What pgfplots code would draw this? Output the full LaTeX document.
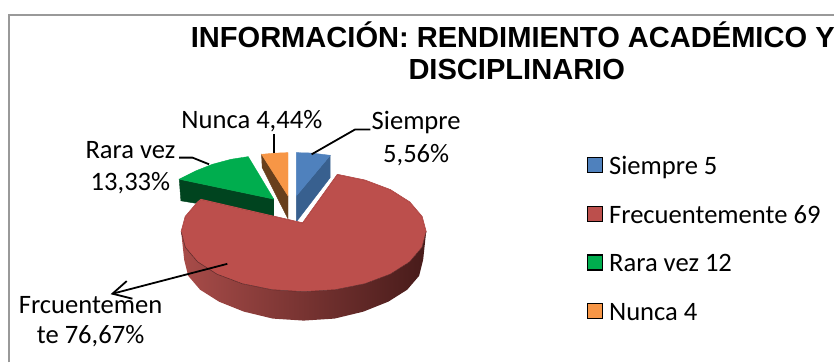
\documentclass[border=0pt]{standalone}
\usepackage{pgfplots}
\usepackage{fontspec}
\setmainfont{Carlito}
\newfontfamily\titlefont{Liberation Sans}
\pgfplotsset{compat=1.18}
\definecolor{rtop}{HTML}{BC4F4C}
\definecolor{rl}{HTML}{A84C49}
\definecolor{rm}{HTML}{682A2A}
\definecolor{rr}{HTML}{471B1A}
\definecolor{btop}{HTML}{4F81BD}
\definecolor{bside}{HTML}{38608F}
\definecolor{gtop}{HTML}{00AD4E}
\definecolor{gside}{HTML}{00441F}
\definecolor{otop}{HTML}{F79646}
\definecolor{oside}{HTML}{683F1C}
\newcommand{\lab}{\fontsize{26.7}{30}\selectfont}
\begin{document}
\begin{tikzpicture}
\begin{axis}[
  scale only axis, width=838pt, height=364pt,
  xmin=0, xmax=838, ymin=0, ymax=364, y dir=reverse,
  hide axis, clip=false,
  legend style={at={(axis cs:589,157)}, anchor=north west, draw=none, fill=none,
    font=\lab, row sep=31pt, inner sep=0pt,
    nodes={inner sep=0pt, anchor=west, text depth=0pt},
    /tikz/every odd column/.style={column sep=6pt}},
  legend cell align=left,
  legend image code/.code={\draw[#1, line width=1.6pt] (0pt,-7pt) rectangle (15pt,8pt);},
]
% page extent
\addplot[draw=none, forget plot] coordinates {(0,0) (838,0) (838,364) (0,364)};
% frame
\addplot[color=black!40, line width=1.5pt, forget plot] coordinates {(9,364) (9,15) (838,15)};
% green slice
\addplot[fill=gside, draw=gside, forget plot] coordinates {(180,180) (181.7,201.7) (275,217) (275,200)} -- cycle;
\addplot[fill=gtop, draw=gtop, forget plot] coordinates {(180,180) (197,171.5) (213.3,165) (232,160) (249.3,157.3) (275,200)} -- cycle;
% orange slice
\addplot[fill=oside, draw=oside, forget plot] coordinates {(262.7,155) (263.3,168.3) (289.3,220) (289.3,196.7)} -- cycle;
\addplot[fill=otop, draw=otop, forget plot] coordinates {(262.7,155) (276,153.8) (289.3,153.3) (289.3,196.7)} -- cycle;
% blue slice
\addplot[fill=bside, draw=bside, forget plot] coordinates {(297.7,196.7) (331.7,156) (331.7,178.3) (297.7,222.7)} -- cycle;
\addplot[fill=btop, draw=btop, forget plot] coordinates {(297.7,153.3) (313,153.7) (331.7,156) (297.7,196.7)} -- cycle;
% red side wall
\addplot[left color=rl, middle color=rm, right color=rr, draw=none, forget plot] coordinates {
 (428,233) (423.8,248.5) (411.5,263) (392,275.4) (366.5,285) (336.8,291) (305,293) (273.2,291) (243.5,285) (218,275.4) (198.5,263) (186.2,248.5) (182,233)
 (185,261) (189,277) (201,291) (220,303) (245,313) (274,320) (305,322) (336,320) (365,313) (390,303) (409,291) (421,277) (425,261)} -- cycle;
% red top
\addplot[fill=rtop, draw=rm!85!black, line width=0.5pt, forget plot] coordinates {
 (304,224) (338.9,175.3) (366.5,181) (392,190.6) (411.5,203) (423.8,217.5) (428,233) (423.8,248.5) (411.5,263) (392,275.4) (366.5,285) (336.8,291) (305,293) (273.2,291) (243.5,285) (218,275.4) (198.5,263) (186.2,248.5) (182,233) (186.2,217.5) (198.5,203) (201.8,200.3)} -- cycle;
\addplot[draw=rtop, line width=1pt, forget plot] coordinates {(201.8,200.3) (304,224) (338.9,175.3)};
\addplot[draw=rtop, line width=1pt, forget plot] coordinates {(338.9,175.3) (366.5,181) (392,190.6) (411.5,203) (423.8,217.5) (428,233)};
\addplot[draw=rtop, line width=1pt, forget plot] coordinates {(182,233) (186.2,217.5) (198.5,203) (201.8,200.3)};
% leader lines
\addplot[black, line width=1.8pt, forget plot] coordinates {(313,155) (356.7,130) (372,130)};
\addplot[black, line width=1.8pt, forget plot] coordinates {(275,154) (275,135)};
\addplot[black, line width=1.8pt, forget plot] coordinates {(210,165) (193.3,158.3) (180,158.3)};
\addplot[black, line width=1.8pt, forget plot] coordinates {(228.3,265) (113,295)};
\addplot[black, line width=1.8pt, forget plot] coordinates {(127.3,282.3) (113,295) (133,300)};
% legend
\addlegendimage{fill=btop, draw=black}\addlegendentry{Siempre 5}
\addlegendimage{fill=rtop, draw=black}\addlegendentry{Frecuentemente 69}
\addlegendimage{fill=gtop, draw=black}\addlegendentry{Rara vez 12}
\addlegendimage{fill=otop, draw=black}\addlegendentry{Nunca 4}
% texts
\node[font=\titlefont\bfseries\fontsize{29.2}{32}\selectfont, anchor=center] at (axis cs:515,35) {INFORMACIÓN: RENDIMIENTO ACADÉMICO Y};
\node[font=\titlefont\bfseries\fontsize{29.2}{32}\selectfont, anchor=center] at (axis cs:519,70) {DISCIPLINARIO};
\node[font=\lab] at (axis cs:418,123) {Siempre};
\node[font=\lab] at (axis cs:418,156) {5,56\%};
\node[font=\lab] at (axis cs:253,122) {Nunca 4,44\%};
\node[font=\lab] at (axis cs:131,151) {Rara vez};
\node[font=\lab] at (axis cs:131,184) {13,33\%};
\node[font=\lab] at (axis cs:91,306) {Frcuentemen};
\node[font=\lab] at (axis cs:91,338) {te 76,67\%};
\end{axis}
\end{tikzpicture}
\end{document}
